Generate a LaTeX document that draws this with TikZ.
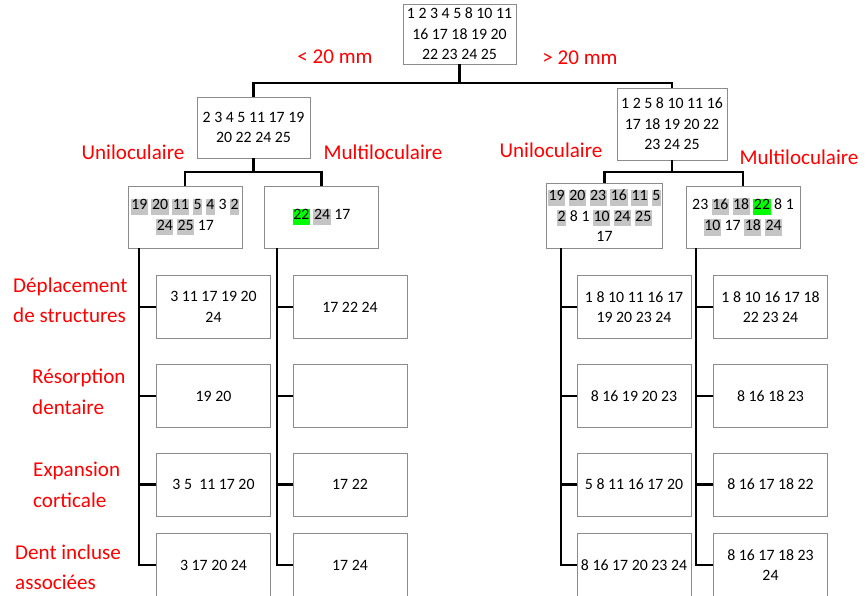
\documentclass[tikz,border=0pt]{standalone}
\usepackage{fontspec}
\setmainfont{Carlito}
\usepackage{xcolor}
\usepackage{tikz}
\usetikzlibrary{positioning}
\definecolor{labred}{HTML}{FF0000}
\definecolor{boxgray}{HTML}{8C8C8C}
\definecolor{hlgray}{HTML}{C4C4C4}
\definecolor{hlgreen}{HTML}{00FF00}
\newcommand{\hg}[1]{{\setlength{\fboxsep}{0.5pt}\colorbox{hlgray}{\rule[-4pt]{0pt}{13pt}#1}}}
\newcommand{\hgr}[1]{{\setlength{\fboxsep}{0.5pt}\colorbox{hlgreen}{\rule[-4pt]{0pt}{13pt}#1}}}
\tikzset{
  conn/.style={line width=2.4pt,black},
  box/.style={draw=boxgray,line width=0.8pt,fill=white,align=center,inner sep=1pt,minimum width=3.42cm,minimum height=1.89cm,font=\fontsize{13.5}{17.5}\selectfont},
  lab/.style={text=labred,font=\fontsize{18}{26}\selectfont,inner sep=0pt}
}
\begin{document}
\begin{tikzpicture}[x=0.03cm,y=-0.03cm]
\useasboundingbox (0,0) rectangle (867,596);
\node[box,minimum width=3.39cm,minimum height=1.8cm] (root) at (459.5,34) {1 2 3 4 5 8 10 11\\16 17 18 19 20\\22 23 24 25};
\node[box,minimum width=3.39cm,minimum height=1.83cm] (l1L) at (253.5,127.5) {2 3 4 5 11 17 19\\20 22 24 25};
\node[box,minimum width=3.3cm,minimum height=2.16cm] (l1R) at (672,124) {1 2 5 8 10 11 16\\17 18 19 20 22\\23 24 25};
\node[box,minimum height=1.86cm] (uL) at (185,217) {\hg{19} \hg{20} \hg{11} \hg{5} \hg{4} 3 \hg{2}\\\hg{24} \hg{25} 17};
\node[box,minimum height=1.86cm] (mL) at (321.5,217) {\hgr{22} \hg{24} 17};
\node[box,minimum height=1.95cm] (uR) at (604.5,215.5) {\hg{19} \hg{20} \hg{23} \hg{16} \hg{11} \hg{5}\\\hg{2} 8 1 \hg{10} \hg{24} \hg{25}\\17};
\node[box,minimum height=1.86cm] (mR) at (743,217) {23 \hg{16} \hg{18} \hgr{22} 8 1\\\hg{10} 17 \hg{18} \hg{24}};
\node[box] (a1) at (213.5,307) {3 11 17 19 20\\24};
\node[box] (a2) at (213.5,396) {19 20};
\node[box] (a3) at (213.5,484.5) {3 5~ 11 17 20};
\node[box] (a4) at (213.5,565) {3 17 20 24};
\node[box] (b1) at (350,307) {17 22 24};
\node[box] (b2) at (350,396) {};
\node[box] (b3) at (350,484.5) {17 22};
\node[box] (b4) at (350,565) {17 24};
\node[box] (c1) at (634,307) {1 8 10 11 16 17\\19 20 23 24};
\node[box] (c2) at (634,396) {8 16 19 20 23};
\node[box] (c3) at (634,484.5) {5 8 11 16 17 20};
\node[box] (c4) at (634,565) {8 16 17 20 23 24};
\node[box] (d1) at (770.5,307) {1 8 10 16 17 18\\22 23 24};
\node[box] (d2) at (770.5,396) {8 16 18 23};
\node[box] (d3) at (770.5,484.5) {8 16 17 18 22};
\node[box] (d4) at (770.5,565) {8 16 17 18 23\\24};
\coordinate (j0) at (459.5,83);
\coordinate (jL) at (253.5,172);
\coordinate (jR) at (672,172);
\draw[conn] (root.south) -- (j0);
\draw[conn] (l1L.north) |- (j0) -| (l1R.north);
\draw[conn] (l1L.south) -- (jL);
\draw[conn] (uL.north) |- (jL) -| (mL.north);
\draw[conn] (l1R.south) -- (jR);
\draw[conn] (uR.north) |- (jR) -| (mR.north);
\foreach \p/\n/\tx in {uL/a/139,mL/b/277,uR/c/561,mR/d/696}{
  \draw[conn] (\p.south -| \tx,0) |- (\n4.west);
  \foreach \r in {1,2,3} \draw[conn] (\n\r.west) -- (\n\r.west -| \tx,0);
}
\node[lab] (lt) at (335,57) {< 20 mm};
\node[lab] (gt) at (580,58) {> 20 mm};
\node[lab] (uniL) at (133,152) {Uniloculaire};
\node[lab] (multL) at (383,152) {Multiloculaire};
\node[lab] (uniR) at (551,150) {Uniloculaire};
\node[lab] (multR) at (799,157) {Multiloculaire};
\node[lab,anchor=west,align=left] (dep) at (13,300.5) {Déplacement\\de structures};
\node[lab,anchor=west,align=left] (res) at (32,392) {Résorption\\dentaire};
\node[lab,anchor=west,align=left] (exp) at (33,485) {Expansion\\corticale};
\node[lab,anchor=west,align=left] (inc) at (15,567.5) {Dent incluse\\associées};
\end{tikzpicture}
\end{document}
